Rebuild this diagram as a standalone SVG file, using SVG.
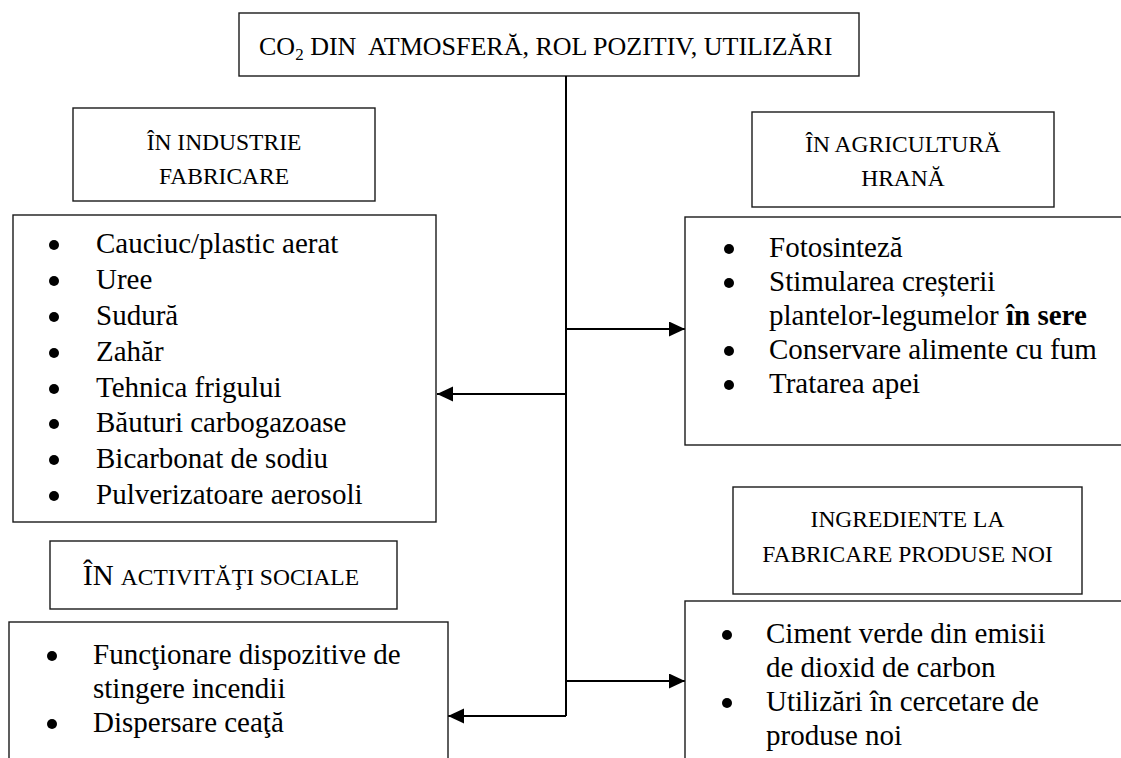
<svg xmlns="http://www.w3.org/2000/svg" width="1121" height="758" viewBox="0 0 1121 758">
<style>
.box{fill:#fff;stroke:#1a1a1a;stroke-width:1.4}
.t{font-family:"Liberation Serif","Times New Roman",serif;fill:#000}
.title{font-size:26px}
.hd{font-size:23.5px;text-anchor:middle}
.it{font-size:29px}
.con{stroke:#000;stroke-width:2;fill:none}
.dot{fill:#000}
</style>
<defs>
<marker id="ah" markerUnits="userSpaceOnUse" markerWidth="17" markerHeight="16" refX="16" refY="7.5" orient="auto">
<path d="M0,0 L16,7.5 L0,15 z" fill="#000"/>
</marker>
</defs>
<rect width="1121" height="758" fill="#fff"/>

<g id="title">
<rect class="box" x="239" y="13" width="620" height="63"/>
<text class="t title" x="259" y="55" xml:space="preserve">CO<tspan font-size="17" dy="5">2</tspan><tspan dy="-5"> DIN  ATMOSFERĂ, ROL POZITIV, UTILIZĂRI</tspan></text>
</g>

<g id="connectors">
<line class="con" x1="566" y1="76" x2="566" y2="716"/>
<line class="con" x1="566" y1="329" x2="685" y2="329" marker-end="url(#ah)"/>
<line class="con" x1="566" y1="394" x2="437" y2="394" marker-end="url(#ah)"/>
<line class="con" x1="566" y1="681" x2="685" y2="681" marker-end="url(#ah)"/>
<line class="con" x1="566" y1="716" x2="448" y2="716" marker-end="url(#ah)"/>
</g>

<g id="hdr-industrie">
<rect class="box" x="73" y="108" width="302" height="93"/>
<text class="t hd" x="224" y="150">ÎN INDUSTRIE</text>
<text class="t hd" x="224" y="184">FABRICARE</text>
</g>

<g id="list-industrie">
<rect class="box" x="13" y="215" width="423" height="307"/>
<circle class="dot" cx="54" cy="245" r="5"/>
<circle class="dot" cx="54" cy="281" r="5"/>
<circle class="dot" cx="54" cy="317" r="5"/>
<circle class="dot" cx="54" cy="353" r="5"/>
<circle class="dot" cx="54" cy="389" r="5"/>
<circle class="dot" cx="54" cy="424" r="5"/>
<circle class="dot" cx="54" cy="460" r="5"/>
<circle class="dot" cx="54" cy="496" r="5"/>
<text class="t it" x="96" y="253">Cauciuc/plastic aerat</text>
<text class="t it" x="96" y="289">Uree</text>
<text class="t it" x="96" y="325">Sudură</text>
<text class="t it" x="96" y="361">Zahăr</text>
<text class="t it" x="96" y="397">Tehnica frigului</text>
<text class="t it" x="96" y="432">Băuturi carbogazoase</text>
<text class="t it" x="96" y="468">Bicarbonat de sodiu</text>
<text class="t it" x="96" y="504">Pulverizatoare aerosoli</text>
</g>

<g id="hdr-agricultura">
<rect class="box" x="752" y="112" width="302" height="95"/>
<text class="t hd" x="903" y="152">ÎN AGRICULTURĂ</text>
<text class="t hd" x="903" y="186">HRANĂ</text>
</g>

<g id="list-agricultura">
<rect class="box" x="685" y="217" width="445" height="228"/>
<circle class="dot" cx="729" cy="249" r="5"/>
<circle class="dot" cx="729" cy="283" r="5"/>
<circle class="dot" cx="729" cy="351" r="5"/>
<circle class="dot" cx="729" cy="385" r="5"/>
<text class="t it" x="769" y="257">Fotosinteză</text>
<text class="t it" x="769" y="291">Stimularea creșterii</text>
<text class="t it" x="769" y="325">plantelor-legumelor <tspan font-weight="bold">în sere</tspan></text>
<text class="t it" x="769" y="359">Conservare alimente cu fum</text>
<text class="t it" x="769" y="393">Tratarea apei</text>
</g>

<g id="hdr-sociale">
<rect class="box" x="50" y="541" width="347" height="68"/>
<text class="t" x="83" y="585" font-size="29">ÎN <tspan font-size="23.5">ACTIVITĂŢI SOCIALE</tspan></text>
</g>

<g id="list-sociale">
<rect class="box" x="9" y="622" width="439" height="150"/>
<circle class="dot" cx="52" cy="656" r="5"/>
<circle class="dot" cx="52" cy="724" r="5"/>
<text class="t it" x="93" y="664">Funcţionare dispozitive de</text>
<text class="t it" x="93" y="698">stingere incendii</text>
<text class="t it" x="93" y="732">Dispersare ceaţă</text>
</g>

<g id="hdr-ingrediente">
<rect class="box" x="733" y="487" width="349" height="107"/>
<text class="t hd" x="907.5" y="527">INGREDIENTE LA</text>
<text class="t hd" x="907.5" y="562">FABRICARE PRODUSE NOI</text>
</g>

<g id="list-ingrediente">
<rect class="box" x="685" y="601" width="445" height="170"/>
<circle class="dot" cx="727" cy="635" r="5"/>
<circle class="dot" cx="727" cy="703" r="5"/>
<text class="t it" x="766" y="643">Ciment verde din emisii</text>
<text class="t it" x="766" y="677">de dioxid de carbon</text>
<text class="t it" x="766" y="711">Utilizări în cercetare de</text>
<text class="t it" x="766" y="745">produse noi</text>
</g>
</svg>
